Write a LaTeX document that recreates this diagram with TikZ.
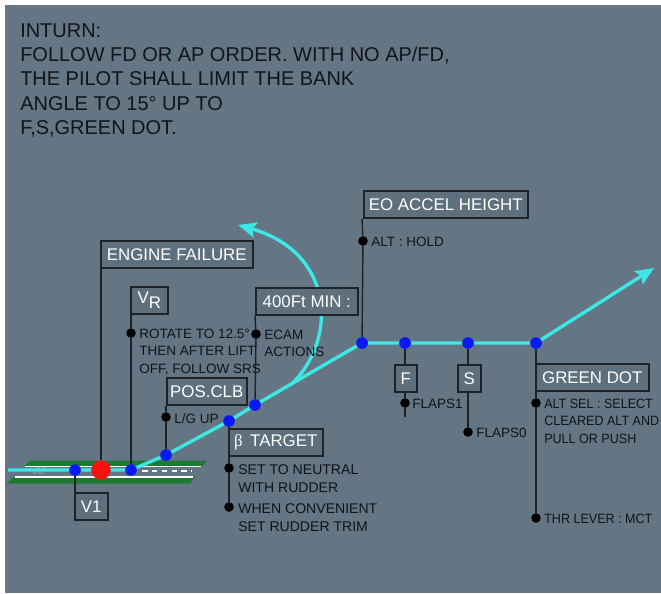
\documentclass[tikz,border=0pt]{standalone}
\usepackage{fontspec}
\setmainfont{Liberation Sans}
\newfontfamily\narrowfont[FakeStretch=0.93]{Liberation Sans}
\newfontfamily\betafont{Liberation Serif}
\usetikzlibrary{arrows.meta, positioning, calc}
\definecolor{cpanel}{HTML}{647583}
\definecolor{cbox}{HTML}{5E6F7D}
\definecolor{cline}{HTML}{1E2328}
\definecolor{cink}{HTML}{111418}
\definecolor{ccyan}{HTML}{3CE8E6}
\definecolor{cblue}{HTML}{0818F8}
\definecolor{cred}{HTML}{FF1010}
\definecolor{cgreen}{HTML}{1E7A32}
\tikzset{
  box/.style={draw=cline, fill=cbox, text=white, line width=1.1pt, inner sep=0pt,
    font=\fontsize{12}{14}\selectfont, minimum height=0.675cm, minimum width=#1*0.025cm,
    anchor=north west},
  bdot/.style={circle, fill=cblue, inner sep=0pt, minimum size=0.29cm},
  rdot/.style={circle, fill=cred, inner sep=0pt, minimum size=0.48cm},
  kdot/.style={circle, fill=black, inner sep=0pt, minimum size=0.24cm},
  track/.style={draw=ccyan, line width=2.4pt},
  tip/.style={-{Stealth[length=13pt, width=11pt, inset=2.5pt]}},
  stem/.style={draw=cline, line width=1pt},
  note/.style={font=\fontsize{9.6}{12.2}\selectfont, text=cink, align=left, inner sep=0pt, anchor=north west},
  title/.style={font=\fontsize{14.2}{17.4}\selectfont, text=cink, align=left, inner sep=0pt, anchor=north west},
}
\begin{document}
\begin{tikzpicture}[x=0.025cm, y=-0.025cm]
  \useasboundingbox (0,0) rectangle (661,593);
  \fill[white] (0,0) rectangle (661,593);
  \fill[cpanel] (5,5) rectangle (661,593);

  \node[title] (intro) at (20,23) {INTURN:\\FOLLOW FD OR AP ORDER. WITH NO AP/FD,\\THE PILOT SHALL LIMIT THE BANK\\ANGLE TO 15° UP TO\\F,S,GREEN DOT.};

  % runway
  \fill[cgreen] (30,460.5) -- (207,460.5) -- (190,483.5) -- (7,483.5) -- cycle;
  \fill[cpanel] (24,466.5) -- (203,466.5) -- (194.5,477) -- (13,477) -- cycle;
  \draw[white, line width=1.1pt] (25,466.5) -- (201,466.5);
  \draw[white, line width=1.1pt] (15,477) -- (193,477);
  \draw[white, line width=1.3pt, dash pattern=on 4pt off 3pt] (142,471) -- (192,471);
  \node[font=\fontsize{7}{7}\selectfont, text=white, opacity=0.35, xslant=0.6] (rwyno) at (40,471) {30};

  % dots on the flight path
  \coordinate (rwy) at (8,470);
  \node[bdot] (v1) at (75,470) {};
  \node[rdot] (ef) at (101,470) {};
  \node[bdot] (vr) at (131,470) {};
  \node[bdot] (clb) at (166,455) {};
  \node[bdot] (beta) at (229,421) {};
  \node[bdot] (min) at (255,405) {};
  \node[bdot] (eo) at (362,343) {};
  \node[bdot] (fp) at (405,343) {};
  \node[bdot] (sp) at (468,343) {};
  \node[bdot] (gd) at (536,343) {};
  \coordinate (out) at (654,268);
  \coordinate (turn) at ($(min)!0.35!(eo)$);
  \coordinate (turnend) at (238,225);

  \draw[track] (rwy) -- (v1) -- (ef) -- (vr) -- (clb) -- (beta) -- (min) -- (eo) -- (fp) -- (sp) -- (gd);
  \draw[track, tip] (gd) -- (out);
  \draw[track, tip] (turn) .. controls (338,338) and (334,252) .. (turnend);

  % boxes
  \node[box=152] (efbox) at (100,240) {ENGINE FAILURE};
  \node[box=37] (vrbox) at (130,286) {V\raisebox{-4pt}{R}};
  \node[box=80] (clbbox) at (166,377) {POS.CLB};
  \node[box=102] (minbox) at (255,287) {400Ft MIN :};
  \node[box=164] (eobox) at (363,190) {EO ACCEL HEIGHT};
  \node[box=22] (fbox) at (394,364) {F};
  \node[box=23] (sbox) at (457,364) {S};
  \node[box=113] (gdbox) at (535,363) {GREEN DOT};
  \node[box=94] (betabox) at (228,428) {{\betafont β}\, TARGET};
  \node[box=33] (v1box) at (74,492) {V1};

  % action dots
  \node[kdot] (rk) at (131,333) {};
  \node[kdot] (clbk) at (166,417) {};
  \node[kdot] (mink) at (256,334) {};
  \node[kdot] (eok) at (363,241) {};
  \node[kdot] (fk) at (405,403) {};
  \coordinate (fend) at (405,417);
  \node[kdot] (sk) at (468,432) {};
  \node[kdot] (gdk) at (536,403) {};
  \node[kdot] (gdk2) at (536,518) {};
  \node[kdot] (bk) at (229,468) {};
  \node[kdot] (bk2) at (229,507) {};

  % stems
  \draw[stem] (ef |- efbox.south) -- (ef);
  \draw[stem] (v1) -- (v1 |- v1box.north);
  \draw[stem] (vr |- vrbox.south) -- (rk) -- (vr);
  \draw[stem] (clb |- clbbox.south) -- (clbk) -- (clb);
  \draw[stem] (min |- minbox.south) -- (mink) -- (min);
  \draw[stem] (eo |- eobox.south) -- (eok) -- (eo);
  \draw[stem] (fp) -- (fp |- fbox.north);
  \draw[stem] (fp |- fbox.south) -- (fk) -- (fend);
  \draw[stem] (sp) -- (sp |- sbox.north);
  \draw[stem] (sp |- sbox.south) -- (sk);
  \draw[stem] (gd) -- (gdk) -- (gdk2);
  \draw[stem] (beta) -- (bk) -- (bk2);

  % notes
  \node[note] (rnote) at ($(rk)+(8,-4)$) {ROTATE TO 12.5°\\THEN AFTER LIFT\\OFF, FOLLOW SRS};
  \node[note] (clbnote) at ($(clbk)+(8,-4)$) {L/G UP};
  \node[note] (minnote) at ($(mink)+(8,-4)$) {ECAM\\ACTIONS};
  \node[note] (eonote) at ($(eok)+(8,-4)$) {ALT : HOLD};
  \node[note] (fnote) at ($(fk)+(7,-4)$) {FLAPS1};
  \node[note] (snote) at ($(sk)+(8,-4)$) {FLAPS0};
  \node[note, font=\narrowfont\fontsize{9.6}{12.2}\selectfont] (gdnote) at ($(gdk)+(8,-4)$) {ALT SEL : SELECT\\CLEARED ALT AND\\PULL OR PUSH};
  \node[note, font=\narrowfont\fontsize{9.6}{12.2}\selectfont] (gdnote2) at ($(gdk2)+(8,-4)$) {THR LEVER : MCT};
  \node[note, font=\fontsize{10}{13}\selectfont] (bnote) at ($(bk)+(9,-4)$) {SET TO NEUTRAL\\WITH RUDDER};
  \node[note, font=\fontsize{10}{13}\selectfont] (bnote2) at ($(bk2)+(9,-4)$) {WHEN CONVENIENT\\SET RUDDER TRIM};
\end{tikzpicture}
\end{document}
